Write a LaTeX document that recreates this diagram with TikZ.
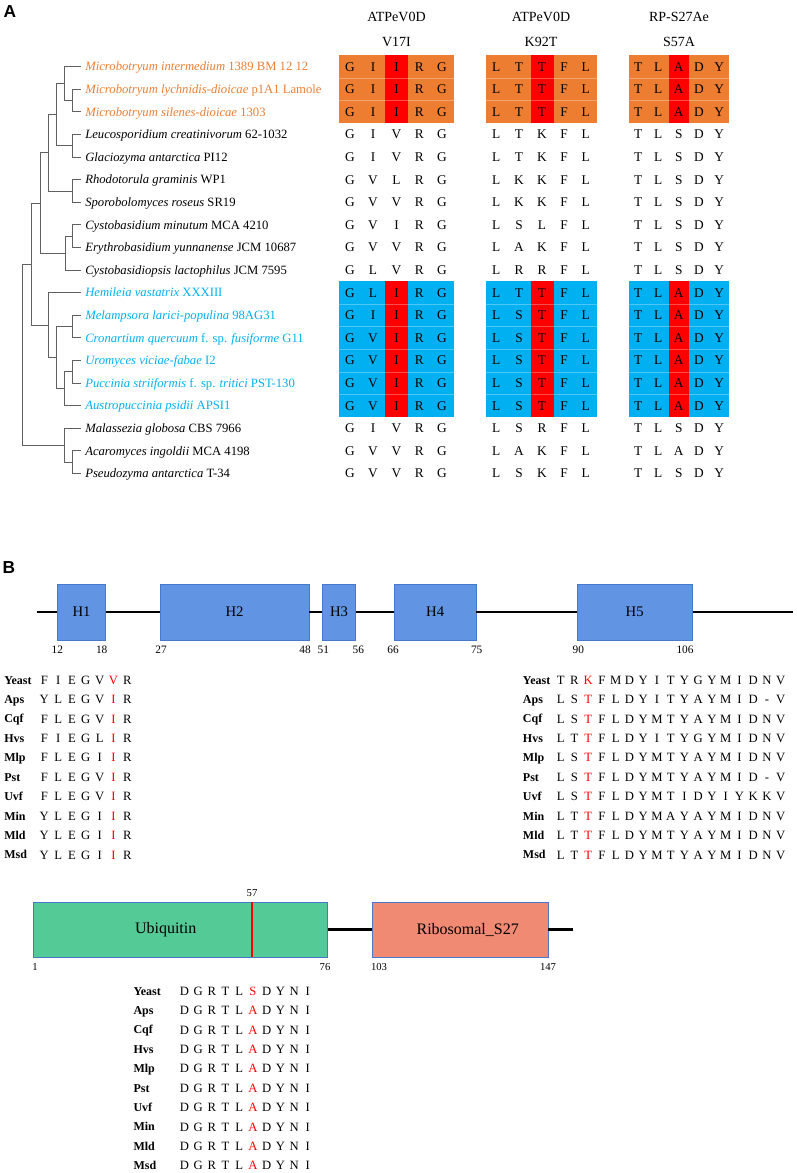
\documentclass[tikz,border=0pt]{standalone}
\usepackage{fontspec}
\setmainfont{Liberation Serif}
\newfontfamily\panelsans{Liberation Sans}
\usetikzlibrary{calc}
\definecolor{mborange}{RGB}{237,125,49}
\definecolor{rustblue}{RGB}{0,176,240}
\definecolor{hitred}{RGB}{255,0,0}
\definecolor{treegray}{RGB}{96,96,96}
\definecolor{helixblue}{RGB}{98,148,228}
\definecolor{helixedge}{RGB}{70,120,205}
\definecolor{ubigreen}{RGB}{84,203,150}
\definecolor{ribosalmon}{RGB}{240,138,114}

\newcommand{\alncols}{{350,373,396.5,419.3,442,496.3,519,542,564,585.7,638.3,658.3,678.7,699,719.3}}

\begin{document}
\begin{tikzpicture}[x=0.75pt,y=-0.75pt,
    panel/.style={inner sep=0pt,font=\panelsans\bfseries\fontsize{13}{13}\selectfont},
    colhead/.style={inner sep=0pt,text height=7pt,text depth=0pt,font=\fontsize{10.5}{12}\selectfont},
    taxon/.style={anchor=west,inner sep=0pt,text height=6.3pt,text depth=0pt,font=\fontsize{9.5}{11}\selectfont},
    res/.style={inner sep=0pt,text height=6.6pt,text depth=0pt,font=\fontsize{10}{12}\selectfont},
    tree/.style={draw=treegray,line width=0.7pt},
    cellsep/.style={draw=white,draw opacity=.3,line width=.4pt},
    helix/.style={draw=helixedge,fill=helixblue,line width=.5pt,minimum height=42pt,inner sep=0pt,font=\fontsize{11}{12}\selectfont},
    backbone/.style={line width=1.6pt},
    posnum/.style={inner sep=0pt,text height=5.8pt,text depth=0pt,font=\fontsize{8.5}{10}\selectfont},
    seqlab/.style={anchor=west,inner sep=0pt,text height=6pt,text depth=0pt,font=\bfseries\fontsize{9}{10}\selectfont},
    seqres/.style={inner sep=0pt,text height=6.3pt,text depth=0pt,font=\fontsize{9.5}{11}\selectfont},
    domainbox/.style={draw=helixedge,line width=.5pt,minimum height=41.25pt,inner sep=0pt}]
  \useasboundingbox (0,0) rectangle (796,1173);

  %%    % A
  \node[panel] (lblA) at (10,12) {A};
  \node[colhead] (gene1) at (396.5,17) {ATPeV0D};
  \node[colhead] (mut1) at (396.5,42) {V17I};
  \node[colhead] (gene2) at (541,17) {ATPeV0D};
  \node[colhead] (mut2) at (541,42) {K92T};
  \node[colhead] (gene3) at (679,17) {RP-S27Ae};
  \node[colhead] (mut3) at (679,42) {S57A};

  % coloured blocks
  \foreach \xa/\xb/\ra/\rb in {338.7/453.7/385/408.3, 486/596.7/530.7/554, 628.7/729.3/668.7/689} {
    \fill[mborange] (\xa,55.4) rectangle (\xb,123.2);
    \fill[rustblue] (\xa,281.4) rectangle (\xb,417);
    \fill[hitred] (\ra,55.4) rectangle (\rb,123.2);
    \fill[hitred] (\ra,281.4) rectangle (\rb,417);
    \foreach \sy in {78,100.6,304,326.6,349.2,371.8,394.4}
      \draw[cellsep] (\xa,\sy) -- (\xb,\sy);
  }

  % taxa
  \foreach \tx/\tc [count=\r from 0] in {
    {\textit{Microbotryum intermedium} 1389 BM 12 12}/mborange,
    {\textit{Microbotryum lychnidis-dioicae} p1A1 Lamole}/mborange,
    {\textit{Microbotryum silenes-dioicae} 1303}/mborange,
    {\textit{Leucosporidium creatinivorum} 62-1032}/black,
    {\textit{Glaciozyma antarctica} PI12}/black,
    {\textit{Rhodotorula graminis} WP1}/black,
    {\textit{Sporobolomyces roseus} SR19}/black,
    {\textit{Cystobasidium minutum} MCA 4210}/black,
    {\textit{Erythrobasidium yunnanense} JCM 10687}/black,
    {\textit{Cystobasidiopsis lactophilus} JCM 7595}/black,
    {\textit{Hemileia vastatrix} XXXIII}/rustblue,
    {\textit{Melampsora larici-populina} 98AG31}/rustblue,
    {\textit{Cronartium quercuum} f. sp. \textit{fusiforme} G11}/rustblue,
    {\textit{Uromyces viciae-fabae} I2}/rustblue,
    {\textit{Puccinia striiformis} f. sp. \textit{tritici} PST-130}/rustblue,
    {\textit{Austropuccinia psidii} APSI1}/rustblue,
    {\textit{Malassezia globosa} CBS 7966}/black,
    {\textit{Acaromyces ingoldii} MCA 4198}/black,
    {\textit{Pseudozyma antarctica} T-34}/black} {
    \pgfmathsetmacro{\ry}{66.7+22.6*\r}
    \coordinate (t\r) at (81,\ry);
    \node[taxon,text=\tc] (taxon\r) at (85,\ry) {\tx};
  }

  % residues
  \foreach \row [count=\r from 0] in {
    {G,I,I,R,G,L,T,T,F,L,T,L,A,D,Y},
    {G,I,I,R,G,L,T,T,F,L,T,L,A,D,Y},
    {G,I,I,R,G,L,T,T,F,L,T,L,A,D,Y},
    {G,I,V,R,G,L,T,K,F,L,T,L,S,D,Y},
    {G,I,V,R,G,L,T,K,F,L,T,L,S,D,Y},
    {G,V,L,R,G,L,K,K,F,L,T,L,S,D,Y},
    {G,V,V,R,G,L,K,K,F,L,T,L,S,D,Y},
    {G,V,I,R,G,L,S,L,F,L,T,L,S,D,Y},
    {G,V,V,R,G,L,A,K,F,L,T,L,S,D,Y},
    {G,L,V,R,G,L,R,R,F,L,T,L,S,D,Y},
    {G,L,I,R,G,L,T,T,F,L,T,L,A,D,Y},
    {G,I,I,R,G,L,S,T,F,L,T,L,A,D,Y},
    {G,V,I,R,G,L,S,T,F,L,T,L,A,D,Y},
    {G,V,I,R,G,L,S,T,F,L,T,L,A,D,Y},
    {G,V,I,R,G,L,S,T,F,L,T,L,A,D,Y},
    {G,V,I,R,G,L,S,T,F,L,T,L,A,D,Y},
    {G,I,V,R,G,L,S,R,F,L,T,L,S,D,Y},
    {G,V,V,R,G,L,A,K,F,L,T,L,A,D,Y},
    {G,V,V,R,G,L,S,K,F,L,T,L,S,D,Y}} {
    \pgfmathsetmacro{\ry}{66.7+22.6*\r}
    \foreach \l [count=\k from 0] in \row {
      \pgfmathsetmacro{\cx}{\alncols[\k]}
      \node[res] (aln-\r-\k) at (\cx,\ry) {\l};
    }
  }

  %%    % tree
  \coordinate (nMls) at (72.7,100.6);
  \coordinate (nMic) at (64,83.65);
  \coordinate (nLg) at (72,145.8);
  \coordinate (nMlg) at (56,114.7);
  \coordinate (nRs) at (72.7,191);
  \coordinate (nMlgrs) at (48.3,152.9);
  \coordinate (nCe) at (72.7,236.2);
  \coordinate (nCec) at (65,253.2);
  \coordinate (nUpper) at (40,203);
  \coordinate (nMc) at (72.7,326.6);
  \coordinate (nUp) at (72.7,371.8);
  \coordinate (nUpa) at (64,388.8);
  \coordinate (nMcupa) at (56.7,357.7);
  \coordinate (nRust) at (48.3,325.2);
  \coordinate (nPucc) at (31.7,264.1);
  \coordinate (nAp) at (72.7,462.2);
  \coordinate (nMal) at (64,445.25);
  \coordinate (nRoot) at (22.3,354.7);
  \foreach \pa/\ch in {nMls/t1,nMls/t2,nMic/t0,nMic/nMls,nLg/t3,nLg/t4,nMlg/nMic,nMlg/nLg,
      nRs/t5,nRs/t6,nMlgrs/nMlg,nMlgrs/nRs,nCe/t7,nCe/t8,nCec/nCe,nCec/t9,nUpper/nMlgrs,nUpper/nCec,
      nMc/t11,nMc/t12,nUp/t13,nUp/t14,nUpa/nUp,nUpa/t15,nMcupa/nMc,nMcupa/nUpa,nRust/t10,nRust/nMcupa,
      nPucc/nUpper,nPucc/nRust,nAp/t17,nAp/t18,nMal/t16,nMal/nAp,nRoot/nPucc,nRoot/nMal}
    \draw[tree] (\pa) |- (\ch);

  %%    % B
  \node[panel] (lblB) at (9,567.5) {B};

  % helices of ATPeV0D
  \coordinate (hlL) at (36.6,612);
  \coordinate (hlR) at (793,612);
  \node[helix,minimum width=36.2pt] (h1) at (81.6,612) {H1};
  \node[helix,minimum width=111.8pt] (h2) at (234.5,612) {H2};
  \node[helix,minimum width=24.9pt] (h3) at (339.1,612) {H3};
  \node[helix,minimum width=61.1pt] (h4) at (435.2,612) {H4};
  \node[helix,minimum width=86.6pt] (h5) at (634.7,612) {H5};
  \draw[backbone] (hlL) -- (h1.west) (h1.east) -- (h2.west) (h2.east) -- (h3.west)
    (h3.east) -- (h4.west) (h4.east) -- (h5.west) (h5.east) -- (hlR);
  \foreach \px/\pn in {57.3/12,101.7/18,161/27,305/48,323.3/51,358.3/56,393/66,476.7/75,578.3/90,685/106}
    \node[posnum] (hp\pn) at (\px,649.3) {\pn};

  % V17I alignment
  \foreach \lab/\seq [count=\r from 0] in {Yeast/{F,I,E,G,V,V,R},Aps/{Y,L,E,G,V,I,R},
      Cqf/{F,L,E,G,V,I,R},Hvs/{F,I,E,G,L,I,R},Mlp/{F,L,E,G,I,I,R},Pst/{F,L,E,G,V,I,R},
      Uvf/{F,L,E,G,V,I,R},Min/{Y,L,E,G,I,I,R},Mld/{Y,L,E,G,I,I,R},Msd/{Y,L,E,G,I,I,R}} {
    \pgfmathsetmacro{\ry}{680+19.44*\r}
    \node[seqlab] (vl\r) at (4,\ry) {\lab};
    \foreach \l [count=\k from 0] in \seq {
      \ifnum\k=5 \def\rc{hitred}\else\def\rc{black}\fi
      \node[seqres,text=\rc] (vs-\r-\k) at ({44.3+13.83*\k},\ry) {\l};
    }
  }

  % K92T alignment
  \foreach \lab/\seq [count=\r from 0] in {Yeast/{T,R,K,F,M,D,Y,I,T,Y,G,Y,M,I,D,N,V},
      Aps/{L,S,T,F,L,D,Y,I,T,Y,A,Y,M,I,D,-,V},Cqf/{L,S,T,F,L,D,Y,M,T,Y,A,Y,M,I,D,N,V},
      Hvs/{L,T,T,F,L,D,Y,I,T,Y,G,Y,M,I,D,N,V},Mlp/{L,S,T,F,L,D,Y,M,T,Y,A,Y,M,I,D,N,V},
      Pst/{L,S,T,F,L,D,Y,M,T,Y,A,Y,M,I,D,-,V},Uvf/{L,S,T,F,L,D,Y,M,T,I,D,Y,I,Y,K,K,V},
      Min/{L,T,T,F,L,D,Y,M,A,Y,A,Y,M,I,D,N,V},Mld/{L,T,T,F,L,D,Y,M,T,Y,A,Y,M,I,D,N,V},
      Msd/{L,T,T,F,L,D,Y,M,T,Y,A,Y,M,I,D,N,V}} {
    \pgfmathsetmacro{\ry}{680+19.44*\r}
    \node[seqlab] (kl\r) at (522.7,\ry) {\lab};
    \foreach \l [count=\k from 0] in \seq {
      \ifnum\k=2 \def\rc{hitred}\else\def\rc{black}\fi
      \node[seqres,text=\rc] (ks-\r-\k) at ({560.7+13.75*\k},\ry) {\l};
    }
  }

  % RP-S27Ae domains
  \node[domainbox,fill=ubigreen,minimum width=220.6pt] (ubi) at (180.6,929.5) {};
  \node[domainbox,fill=ribosalmon,minimum width=131.8pt] (ribo) at (460.2,929.5) {};
  \draw[hitred,line width=1pt] (252,902) -- (252,957);
  \node[font=\fontsize{12}{14}\selectfont,inner sep=0pt] (ubitxt) at (165.7,929.5) {Ubiquitin};
  \node[font=\fontsize{12}{14}\selectfont,inner sep=0pt] (ribotxt) at (467.7,929.5) {Ribosomal\_S27};
  \coordinate (tail) at (573,929.5);
  \draw[backbone] (ubi.east) -- (ribo.west) (ribo.east) -- (tail);
  \node[posnum,font=\fontsize{8}{9}\selectfont] (up57) at (252,892.7) {57};
  \foreach \px/\pn in {35/1,325/76,379/103,548/147}
    \node[posnum,font=\fontsize{8}{9}\selectfont] (up\pn) at (\px,966.7) {\pn};

  % S57A alignment
  \foreach \lab/\seq [count=\r from 0] in {Yeast/{D,G,R,T,L,S,D,Y,N,I},Aps/{D,G,R,T,L,A,D,Y,N,I},
      Cqf/{D,G,R,T,L,A,D,Y,N,I},Hvs/{D,G,R,T,L,A,D,Y,N,I},Mlp/{D,G,R,T,L,A,D,Y,N,I},
      Pst/{D,G,R,T,L,A,D,Y,N,I},Uvf/{D,G,R,T,L,A,D,Y,N,I},Min/{D,G,R,T,L,A,D,Y,N,I},
      Mld/{D,G,R,T,L,A,D,Y,N,I},Msd/{D,G,R,T,L,A,D,Y,N,I}} {
    \pgfmathsetmacro{\ry}{991+19.4*\r}
    \node[seqlab] (sl\r) at (133.3,\ry) {\lab};
    \foreach \l [count=\k from 0] in \seq {
      \ifnum\k=5 \def\rc{hitred}\else\def\rc{black}\fi
      \node[seqres,text=\rc] (ss-\r-\k) at ({184.5+13.7*\k},\ry) {\l};
    }
  }
\end{tikzpicture}
\end{document}
